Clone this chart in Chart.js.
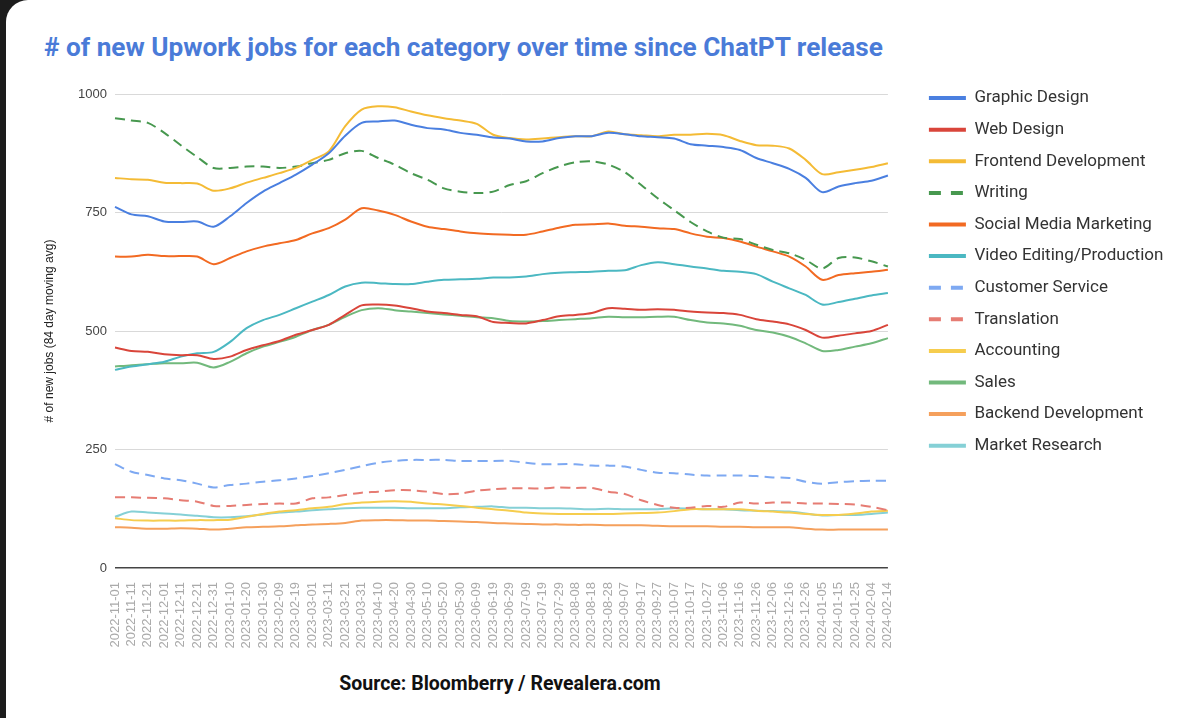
<!DOCTYPE html>
<html>
<head>
<meta charset="utf-8">
<script src="https://cdn.jsdelivr.net/npm/chart.js@4.4.1/dist/chart.umd.min.js"></script>
<style>
  html, body { margin: 0; padding: 0; }
  body { width: 1200px; height: 718px; background: #1c1c1c; overflow: hidden; position: relative; }
  #card { position: absolute; left: 6px; top: 0; width: 1194px; height: 718px; background: #fff; border-top-left-radius: 22px; }
  #title { position: absolute; left: 44px; top: 32px; font: bold 26.2px Roboto, sans-serif; color: #4a7bd8; white-space: nowrap; }
  #source { position: absolute; left: 110px; width: 780px; top: 672px; text-align: center; font: bold 19.5px Roboto, sans-serif; color: #111; }
  #wrap { position: absolute; left: 6px; top: 70px; width: 1194px; height: 588px; }
</style>
</head>
<body>
<div id="card"></div>
<div id="title"># of new Upwork jobs for each category over time since ChatPT release</div>
<div id="wrap"><canvas id="grafico"></canvas></div>
<div id="source">Source: Bloomberry / Revealera.com</div>
<script>
// dates, every 10 days
const labels = [
  '2022-11-01','2022-11-11','2022-11-21','2022-12-01','2022-12-11','2022-12-21','2022-12-31',
  '2023-01-10','2023-01-20','2023-01-30','2023-02-09','2023-02-19','2023-03-01','2023-03-11',
  '2023-03-21','2023-03-31','2023-04-10','2023-04-20','2023-04-30','2023-05-10','2023-05-20',
  '2023-05-30','2023-06-09','2023-06-19','2023-06-29','2023-07-09','2023-07-19','2023-07-29',
  '2023-08-08','2023-08-18','2023-08-28','2023-09-07','2023-09-17','2023-09-27','2023-10-07',
  '2023-10-17','2023-10-27','2023-11-06','2023-11-16','2023-11-26','2023-12-06','2023-12-16',
  '2023-12-26','2024-01-05','2024-01-15','2024-01-25','2024-02-04','2024-02-14'
];
const yTicks = [0, 250, 500, 750, 1000];

const graphicDesign = [762,746,742,731,730,731,720,742,770,794,812,830,851,875,912,939,942,944,935,928,925,918,914,908,906,900,900,907,911,911,918,915,911,909,906,894,891,888,882,865,854,842,823,793,805,812,817,828];
const webDesign = [465,458,456,451,449,449,441,446,460,470,479,492,502,513,534,554,556,554,548,541,538,534,531,519,517,516,523,531,534,538,548,547,545,546,545,541,539,538,534,525,520,514,502,486,490,495,500,513];
const frontend = [823,820,819,813,812,811,796,801,813,823,833,844,861,879,932,967,974,972,963,955,949,944,937,914,907,904,906,909,911,911,921,915,913,911,914,914,916,913,901,892,891,885,861,831,835,840,846,854];
const writing = [949,944,939,918,892,867,844,844,847,847,844,847,854,861,875,880,865,851,833,819,801,794,791,794,808,816,833,847,856,858,851,835,808,780,755,730,710,697,694,682,671,664,650,632,654,655,647,636];
const socialMedia = [657,657,661,658,658,657,641,654,668,678,685,692,706,717,735,759,754,745,731,720,715,710,706,704,703,703,710,718,724,725,727,722,720,717,715,706,699,696,689,678,668,657,636,608,618,622,625,629];
const videoEditing = [418,425,430,435,446,453,456,477,506,523,534,548,562,576,594,602,601,599,599,604,608,609,610,613,613,615,620,623,624,625,627,628,639,645,641,636,632,627,625,620,604,590,576,556,561,568,575,580];
const customerService = [219,203,196,189,185,178,170,175,178,182,185,189,194,200,207,215,222,226,228,228,228,226,226,226,226,222,219,219,219,216,216,214,207,201,200,197,195,195,195,194,191,190,182,178,181,183,184,184];
const translation = [149,149,148,147,143,140,131,131,133,135,136,136,147,149,154,159,161,164,164,161,156,157,163,166,168,168,168,170,169,169,161,156,143,133,127,127,131,129,138,136,138,138,136,136,135,134,129,122];
const accounting = [105,101,100,100,100,101,101,102,108,114,119,122,126,129,135,138,140,141,140,136,134,131,127,124,121,117,115,114,114,114,114,115,116,117,120,124,124,124,124,121,119,117,114,112,112,115,119,121];
const sales = [425,428,430,432,432,433,423,435,453,467,477,488,502,513,530,544,548,544,541,538,535,532,529,527,521,520,521,523,525,527,530,529,529,530,530,523,518,516,511,502,497,488,474,458,460,467,474,485];
const backend = [86,85,83,83,84,83,81,83,86,87,88,90,92,93,95,100,101,101,100,100,99,98,97,95,94,93,92,92,91,91,90,90,90,89,88,88,88,87,87,86,86,86,83,81,81,81,81,81];
const marketResearch = [108,119,117,115,113,110,107,107,109,113,117,119,122,124,126,127,127,127,126,126,126,128,129,130,127,127,126,126,125,124,125,124,124,124,126,125,124,124,122,121,120,119,115,111,112,112,114,117];

function serie(label, data, color, dashed) {
    return {
        label: label,
        data: data,
        borderColor: color,
        backgroundColor: color,
        borderWidth: 2,
        borderDash: dashed ? [10, 6] : [],
        pointRadius: 0,
        pointHoverRadius: 0,
        pointStyle: 'line',
        tension: 0.3,
        fill: false
    };
}

// puts the legend where the sheets chart has it (fixed spot right of the plot)
const legendShift = {
    id: 'legendShift',
    afterLayout(chart) {
        const lg = chart.legend;
        lg.left = chart.chartArea.right + 26.4;
        lg.right = chart.width;
        lg.top -= 19; lg.bottom -= 19;
    }
};

var grafico = document.getElementById('grafico').getContext('2d');

var meugrafico = new Chart(grafico, {
    type: 'line',
    data: {
        labels: labels,
        datasets: [
            serie('Graphic Design', graphicDesign, '#4a7fe0', false),
            serie('Web Design', webDesign, '#d9453a', false),
            serie('Frontend Development', frontend, '#f4bb35', false),
            serie('Writing', writing, '#47984f', true),
            serie('Social Media Marketing', socialMedia, '#f26a22', false),
            serie('Video Editing/Production', videoEditing, '#4bb8c2', false),
            serie('Customer Service', customerService, '#7ea9f2', true),
            serie('Translation', translation, '#e67c73', true),
            serie('Accounting', accounting, '#f6cd4e', false),
            serie('Sales', sales, '#72b97c', false),
            serie('Backend Development', backend, '#f5a05c', false),
            serie('Market Research', marketResearch, '#85d0d6', false)
        ]
    },
    plugins: [legendShift],
    options: {
        responsive: true,
        maintainAspectRatio: false,
        animation: false,
        layout: { padding: { left: 32.8, top: 24, right: 53, bottom: 10 } },
        scales: {
            x: {
                grid: { display: false },
                border: { display: false },
                ticks: {
                    autoSkip: false,
                    minRotation: 90,
                    maxRotation: 90,
                    padding: 6,
                    color: '#aaaaaa',
                    font: { family: 'Liberation Sans, Arial, sans-serif', size: 13 }
                },
                afterFit: function(scale) { scale.height = 80; }
            },
            y: {
                min: 0,
                max: 1000,
                afterBuildTicks: function(scale) { scale.ticks = yTicks.map(v => ({ value: v })); },
                grid: {
                    drawTicks: false,
                    color: ctx => ctx.tick && ctx.tick.value === 0 ? '#444444' : '#d9d9d9',
                    lineWidth: ctx => ctx.tick && ctx.tick.value === 0 ? 1.5 : 1
                },
                border: { display: false },
                ticks: {
                    padding: 8,
                    color: '#444444',
                    font: { family: 'Liberation Sans, Arial, sans-serif', size: 13 },
                    callback: v => String(v)
                },
                title: {
                    display: true,
                    text: '# of new jobs (84 day moving avg)',
                    color: '#222222',
                    padding: { top: 4, bottom: 4 },
                    font: { family: 'Liberation Sans, Arial, sans-serif', size: 12 }
                },
                afterFit: function(scale) { scale.width = 76.2; }
            }
        },
        plugins: {
            title: { display: false },
            tooltip: { enabled: false },
            legend: {
                position: 'right',
                align: 'start',
                maxWidth: 280,
                labels: {
                    usePointStyle: true,
                    pointStyleWidth: 37,
                    padding: 14.6,
                    color: '#333333',
                    font: { family: 'Roboto, sans-serif', size: 17 },
                    generateLabels: function(chart) {
                        const items = Chart.defaults.plugins.legend.labels.generateLabels(chart);
                        items.forEach(it => {
                            const ds = chart.data.datasets[it.datasetIndex];
                            it.lineWidth = 4;
                            it.lineDash = ds.borderDash.length ? [12, 10] : [];
                            it.strokeStyle = ds.borderColor;
                            it.pointStyle = 'line';
                        });
                        return items;
                    }
                }
            }
        }
    }
});
</script>
</body>
</html>
